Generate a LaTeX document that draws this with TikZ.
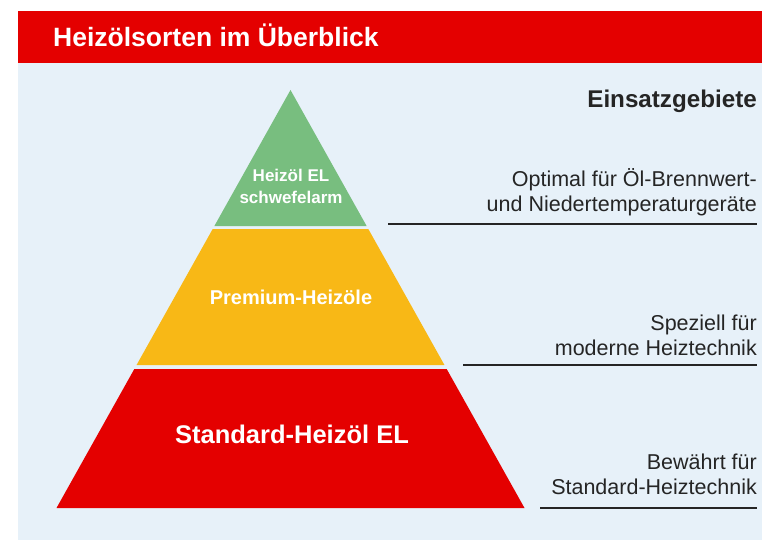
\documentclass[tikz,border=0pt]{standalone}
\usepackage{fontspec}
\setmainfont{Liberation Sans}
\usepackage{xcolor}
\usepackage{tikz}

\definecolor{heizrot}{HTML}{E40000}
\definecolor{panelblau}{HTML}{E7F1F9}
\definecolor{stufegruen}{HTML}{78BE7F}
\definecolor{stufegelb}{HTML}{F8B816}
\definecolor{textgrau}{HTML}{252525}

\begin{document}
\begin{tikzpicture}[x=1pt,y=-1pt,
		titel/.style={text=white, font=\fontsize{26.5}{30}\selectfont\bfseries, inner sep=0pt, anchor=base west},
		stufe/.style={text=white, font=\bfseries, inner sep=0pt, align=center},
		kopf/.style={text=textgrau, font=\fontsize{24.2}{28}\selectfont\bfseries, inner sep=0pt, anchor=base east},
		einsatz/.style={text=textgrau, font=\fontsize{21.5}{24.5}\selectfont, inner sep=0pt, align=right, anchor=base east},
		trenner/.style={draw=textgrau, line width=1.5pt}]
		\useasboundingbox (0,0) rectangle (762,540);
		
		% Hintergrund und Titelleiste
		\fill[panelblau] (18,63) rectangle (762,540);
		\fill[heizrot] (18,11) rectangle (762,63);
		\node[titel] (titel) at (53,47) {Heizölsorten im Überblick};
		
		% Pyramide: drei Stufen, Flanken mit gleicher Steigung
		\foreach \oben/\unten/\farbe in {90/226/stufegruen, 229/365/stufegelb, 369/508/heizrot} {
			\pgfmathsetmacro{\bo}{0.5598*(\oben-90)}
			\pgfmathsetmacro{\bu}{0.5598*(\unten-90)}
			\fill[\farbe] (290.5-\bo,\oben) -- (290.5+\bo,\oben)
				-- (290.5+\bu,\unten) -- (290.5-\bu,\unten) -- cycle;
		}
		
		% Beschriftung der Stufen (base = letzte Zeile)
		\node[stufe, font=\fontsize{17}{22}\selectfont\bfseries, anchor=base] (elarm) at (291,204) {Heizöl EL\\schwefelarm};
		\node[stufe, font=\fontsize{20}{24}\selectfont\bfseries, anchor=base] (premium) at (291,304) {Premium-Heizöle};
		\node[stufe, font=\fontsize{25.5}{30}\selectfont\bfseries, anchor=base] (standard) at (292,443) {Standard-Heizöl EL};
		
		% Einsatzgebiete rechts
		\node[kopf] (gebiete) at (757,108) {Einsatzgebiete};
		\node[einsatz] (einsatz1) at (757,211) {Optimal für Öl-Brennwert-\\und Niedertemperaturgeräte};
		\node[einsatz] (einsatz2) at (757,355) {Speziell für\\moderne Heiztechnik};
		\node[einsatz] (einsatz3) at (757,494) {Bewährt für\\Standard-Heiztechnik};
		
		% Trennlinien unter den Texten
		\coordinate (l1a) at (388,224);
		\coordinate (l1b) at (757,224);
		\coordinate (l2a) at (463,365);
		\coordinate (l2b) at (757,365);
		\coordinate (l3a) at (540,508);
		\coordinate (l3b) at (757,508);
		\draw[trenner] (l1a) -- (l1b);
		\draw[trenner] (l2a) -- (l2b);
		\draw[trenner] (l3a) -- (l3b);
	\end{tikzpicture}
\end{document}
